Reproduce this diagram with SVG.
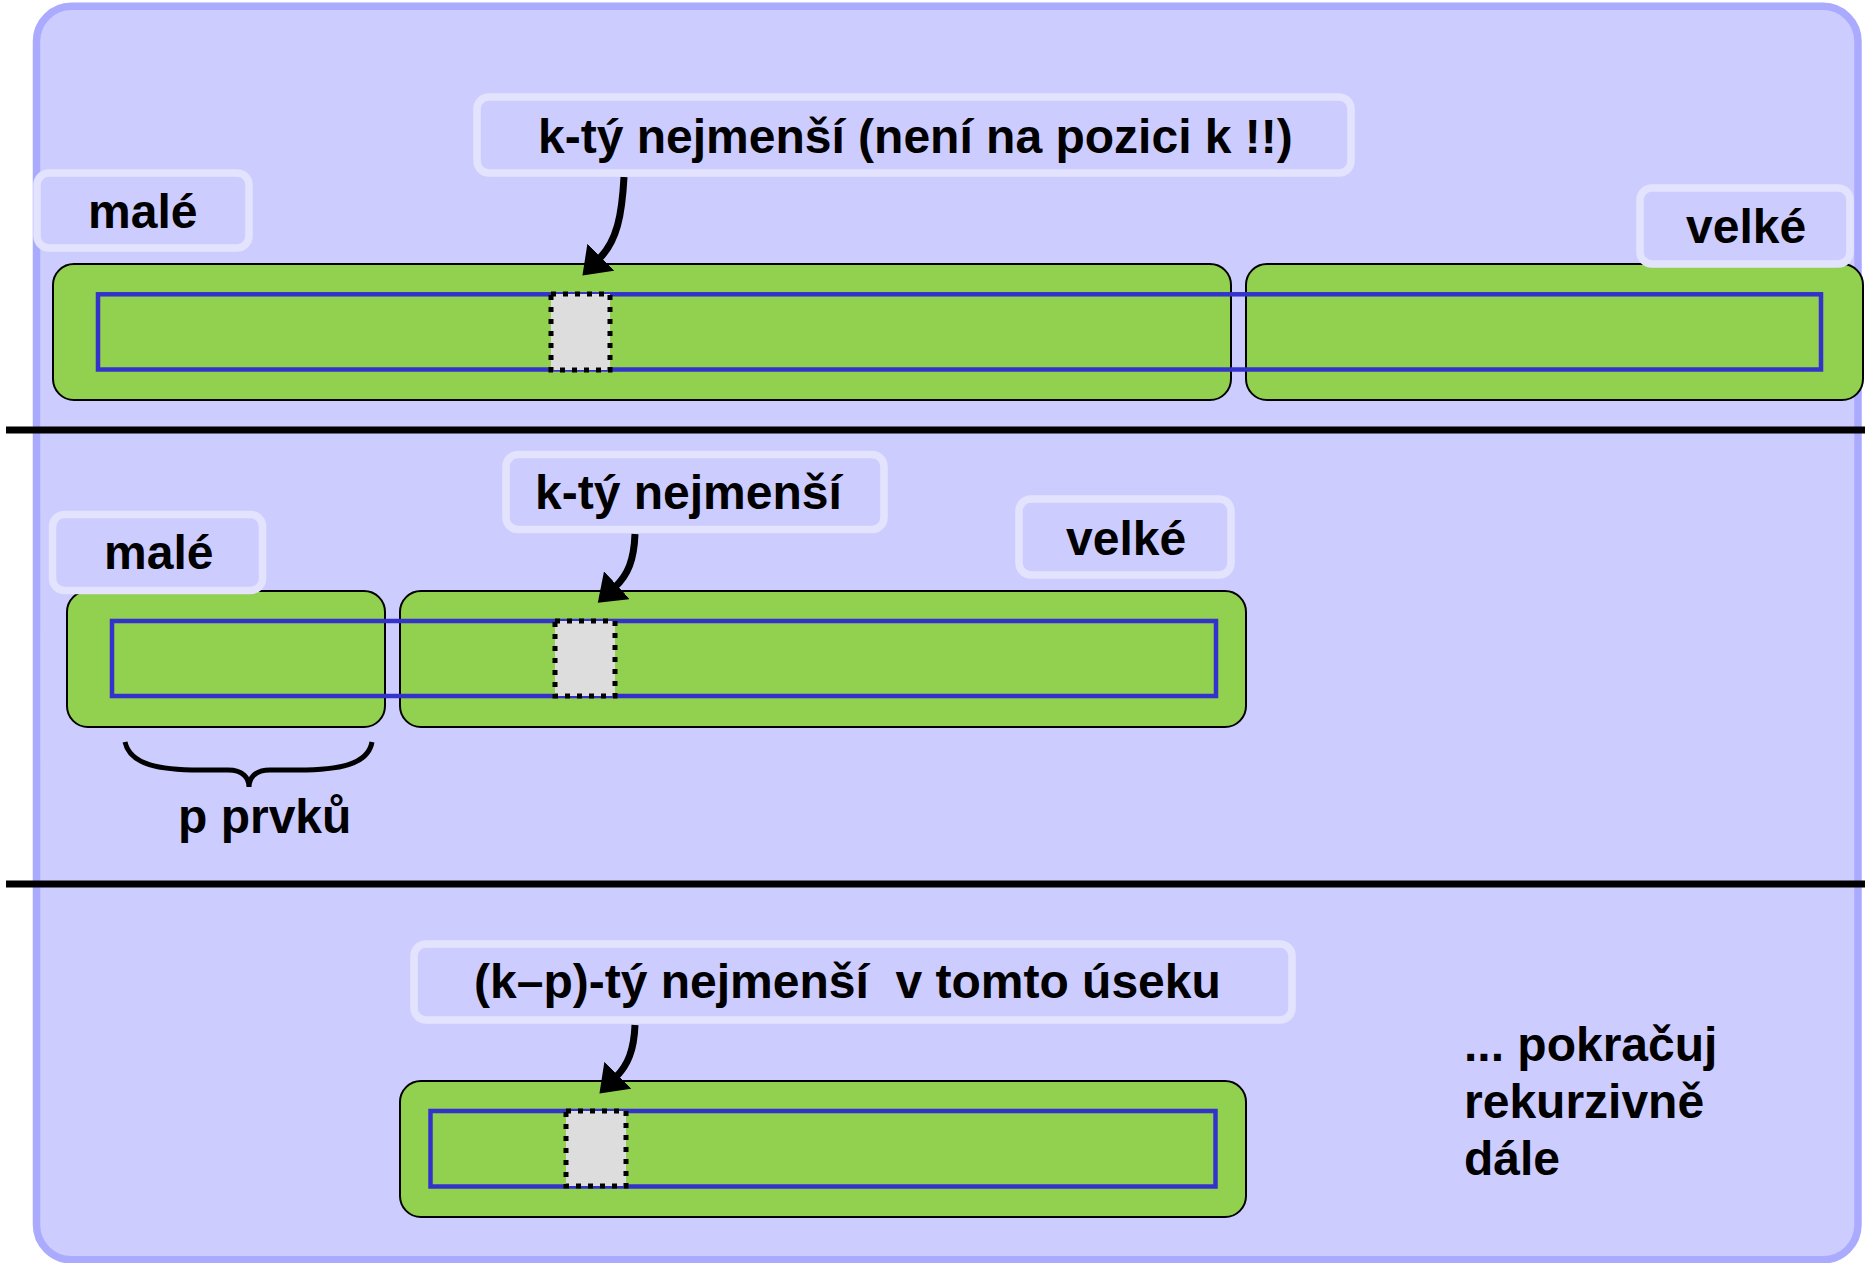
<svg xmlns="http://www.w3.org/2000/svg" width="1865" height="1263" viewBox="0 0 1865 1263">
<style>
.bar{fill:#92D050;stroke:#000;stroke-width:2}
.blue{fill:none;stroke:#3333CC;stroke-width:4.5}
.dot{fill:#DDDDDD;stroke:#000;stroke-width:5;stroke-dasharray:5 7}
.lbl{fill:#CCCCFF;stroke:#E3E3FE;stroke-width:7.5}
.t{font-family:"Liberation Sans",Arial,sans-serif;font-weight:bold;font-size:48px;fill:#000;white-space:pre}
.arr{fill:none;stroke:#000;stroke-width:7}
.div{stroke:#000;stroke-width:7}
</style>
<defs>
<marker id="ah" viewBox="0 0 10 10" refX="1" refY="5" markerWidth="26" markerHeight="38" markerUnits="userSpaceOnUse" orient="auto" preserveAspectRatio="none">
<path d="M0,0 L10,5 L0,10 z" fill="#000"/>
</marker>
</defs>
<rect id="panel" x="36.5" y="6.3" width="1821.5" height="1253.5" rx="35" fill="#CCCCFF" stroke="#AAAAFF" stroke-width="7.5"/>
<g id="dividers">
<line class="div" x1="6" y1="430" x2="1865" y2="430"/>
<line class="div" x1="6" y1="884" x2="1865" y2="884"/>
</g>
<g id="section1">
<rect class="bar" x="53" y="264" width="1178" height="136" rx="21"/>
<rect class="bar" x="1246" y="264" width="617" height="136" rx="21"/>
<rect class="blue" x="98" y="294.3" width="1723" height="75.2"/>
<rect class="dot" x="551" y="294" width="59" height="76"/>
</g>
<g id="section2">
<rect class="bar" x="67" y="591" width="318" height="136" rx="21"/>
<rect class="bar" x="400" y="591" width="846" height="136" rx="21"/>
<rect class="blue" x="112" y="621" width="1104" height="75"/>
<rect class="dot" x="555" y="621" width="60" height="75"/>
</g>
<g id="section3">
<rect class="bar" x="400" y="1081" width="846" height="136" rx="21"/>
<rect class="blue" x="430.5" y="1111" width="785" height="75.5"/>
<rect class="dot" x="566" y="1111" width="60" height="75"/>
</g>
<g id="connectors">
<path class="arr" d="M624,177 C622,215 617,241 599,259" marker-end="url(#ah)"/>
<path class="arr" d="M635,534 C634,560 628,575 615,587" marker-end="url(#ah)"/>
<path class="arr" d="M635,1025 C634,1050 628,1065 616,1077" marker-end="url(#ah)"/>
<path id="brace" d="M125,742 C130,765 160,770 200,770 L228,770 C243,770 249,778 249,787 C249,778 255,770 270,770 L298,770 C338,770 368,765 372,742" fill="none" stroke="#000" stroke-width="5"/>
</g>
<g id="label-k-top">
<rect class="lbl" x="477" y="97" width="874" height="76" rx="12"/>
<text class="t" x="538" y="153">k-tý nejmenší (není na pozici k !!)</text>
</g>
<g id="label-male-top">
<rect class="lbl" x="37" y="173" width="212" height="75" rx="12"/>
<text class="t" x="88" y="228">malé</text>
</g>
<g id="label-velke-top">
<rect class="lbl" x="1640" y="188" width="210" height="76" rx="12"/>
<text class="t" x="1686" y="243">velké</text>
</g>
<g id="label-male-2">
<rect class="lbl" x="52.5" y="514.5" width="210" height="76" rx="12"/>
<text class="t" x="104" y="569">malé</text>
</g>
<g id="label-k-2">
<rect class="lbl" x="506" y="454.5" width="378" height="75" rx="12"/>
<text class="t" x="535" y="509">k-tý nejmenší</text>
</g>
<g id="label-velke-2">
<rect class="lbl" x="1019" y="499" width="212" height="76" rx="12"/>
<text class="t" x="1066" y="555">velké</text>
</g>
<g id="label-p">
<text class="t" x="178" y="833">p prvků</text>
</g>
<g id="label-kp">
<rect class="lbl" x="414" y="944" width="878" height="76" rx="12"/>
<text class="t" x="474" y="998" xml:space="preserve">(k–p)-tý nejmenší  v tomto úseku</text>
</g>
<g id="label-continue">
<text class="t" x="1464" y="1061">... pokračuj</text>
<text class="t" x="1464" y="1118">rekurzivně</text>
<text class="t" x="1464" y="1175">dále</text>
</g>
</svg>
